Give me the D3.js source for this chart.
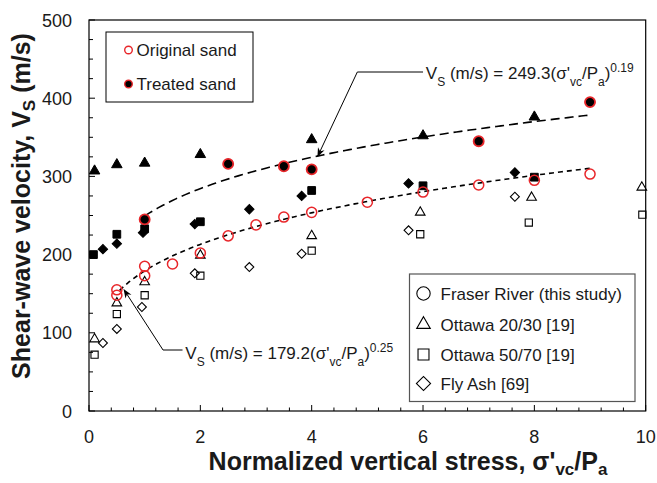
<!DOCTYPE html>
<html><head><meta charset="utf-8">
<script src="https://cdn.jsdelivr.net/npm/d3@7"></script>
<style>body{margin:0;background:#fff}svg{font-family:"Liberation Sans",Arial,sans-serif}</style>
</head><body><svg id="c" width="657" height="483"></svg>
<script>
// ---- data ----
const xTicks = [0, 2, 4, 6, 8, 10];
const yTicks = [0, 100, 200, 300, 400, 500];
// Fraser River (this study)
const fraserOrigX = [0.5, 0.5, 1, 1, 1.5, 2, 2.5, 3, 3.5, 4, 5, 6, 7, 8, 9];
const fraserOrigV = [155, 148, 185, 173, 188, 202, 224, 238, 248, 254, 267, 280, 289, 295, 303];
const fraserTreatX = [1, 2.5, 3.5, 4, 7, 9];
const fraserTreatV = [245, 316, 313, 309, 345, 395];
// Ottawa 20/30
const ott2030OrigX = [0.1, 0.5, 1, 2, 4, 5.95, 7.95, 9.93];
const ott2030OrigV = [92, 138, 165, 199, 224, 254, 273, 286];
const ott2030TreatX = [0.1, 0.5, 1, 2, 4, 6, 8];
const ott2030TreatV = [307, 315, 317, 328, 347, 352, 376];
// Ottawa 50/70
const ott5070OrigX = [0.1, 0.5, 1, 2, 4, 5.95, 7.9, 9.94];
const ott5070OrigV = [72, 124, 148, 173, 205, 226, 241, 251];
const ott5070TreatX = [0.08, 0.5, 1, 2, 4, 6, 8];
const ott5070TreatV = [200, 226, 233, 242, 282, 288, 299];
// Fly Ash
const flyOrigX = [0.25, 0.5, 0.95, 1.9, 2.88, 3.82, 5.74, 7.65];
const flyOrigV = [87, 105, 133, 176, 184, 201, 231, 274];
const flyTreatX = [0.25, 0.5, 0.97, 1.9, 2.88, 3.82, 5.74, 7.65];
const flyTreatV = [207, 214, 228, 239, 258, 275, 291, 305];
// power-law fits Vs = a*(x)^b
const fitTreated = [249.3, 0.19, 1, 9];   // a, b, xStart, xEnd
const fitOriginal = [179.2, 0.25, 0.55, 9];
const legend2Labels = ["Fraser River (this study)", "Ottawa 20/30 [19]", "Ottawa 50/70 [19]", "Fly Ash [69]"];

// ---- layout ----
const svg = d3.select("#c");
const L = 89, T = 20, R = 645.7, B = 411;
const x = d3.scaleLinear().domain([0, 10]).range([L, R]);
const y = d3.scaleLinear().domain([0, 500]).range([B, T]);
const txt = "#1a1a1a";

// frame
svg.append("rect").attr("x", L).attr("y", T).attr("width", R - L).attr("height", B - T)
  .attr("fill", "none").attr("stroke", "#000").attr("stroke-width", 1.2);

// ticks (inward)
const g = svg.append("g");
d3.range(0, 10.001, 0.4).forEach(v => {
  const major = Math.abs(v / 2 - Math.round(v / 2)) < 1e-6;
  g.append("line").attr("x1", x(v)).attr("x2", x(v)).attr("y1", B).attr("y2", B - (major ? 6 : 3.5))
   .attr("stroke", "#000").attr("stroke-width", 1);
});
d3.range(0, 500.001, 25).forEach(v => {
  const major = v % 100 === 0;
  g.append("line").attr("x1", L).attr("x2", L + (major ? 6 : 4)).attr("y1", y(v)).attr("y2", y(v))
   .attr("stroke", "#000").attr("stroke-width", 1);
});
// tick labels
xTicks.forEach(v => svg.append("text").attr("x", x(v)).attr("y", 443).attr("text-anchor", "middle")
  .attr("font-size", 18).attr("fill", txt).text(v));
yTicks.forEach(v => svg.append("text").attr("x", 72).attr("y", y(v) + 6.5).attr("text-anchor", "end")
  .attr("font-size", 18).attr("fill", txt).text(v));

// axis titles
function sub(t, s, fs, shift) {
  t.append("tspan").attr("font-size", fs).attr("dy", shift).text(s);
}
const xt = svg.append("text").attr("x", 408).attr("y", 470).attr("text-anchor", "middle")
  .attr("font-size", 25).attr("font-weight", "bold").attr("fill", txt);
xt.append("tspan").text("Normalized vertical stress, σ'");
sub(xt, "vc", 17, 5);
xt.append("tspan").attr("dy", -5).text("/P");
sub(xt, "a", 17, 5);

const yt = svg.append("text").attr("transform", `translate(30,206) rotate(-90)`)
  .attr("text-anchor", "middle").attr("font-size", 25).attr("font-weight", "bold").attr("fill", txt);
yt.append("tspan").text("Shear-wave velocity, V");
sub(yt, "S", 17, 5);
yt.append("tspan").attr("dy", -5).text(" (m/s)");

// fit curves
function fitLine(f, dash) {
  const pts = d3.range(0, 101).map(i => {
    const xv = f[2] + (f[3] - f[2]) * i / 100;
    return [xv, f[0] * Math.pow(xv, f[1])];
  });
  svg.append("path").attr("d", d3.line().x(d => x(d[0])).y(d => y(d[1]))(pts))
    .attr("fill", "none").attr("stroke", "#000").attr("stroke-width", 1.6).attr("stroke-dasharray", dash);
}
fitLine(fitTreated, "9,5");
fitLine(fitOriginal, "5,4");

// markers
function sym(type, size) { return d3.symbol().type(type).size(size)(); }
function plot(xs, vs, type, size, fill, stroke, sw, rot) {
  xs.forEach((xv, i) => {
    svg.append("path").attr("d", sym(type, size))
      .attr("transform", `translate(${x(xv)},${y(vs[i])})` + (rot ? " rotate(45)" : ""))
      .attr("fill", fill).attr("stroke", stroke).attr("stroke-width", sw);
  });
}
plot(flyOrigX, flyOrigV, d3.symbolSquare, 40, "none", "#000", 1.1, true);
plot(ott5070OrigX, ott5070OrigV, d3.symbolSquare, 52, "none", "#000", 1.1);
plot(ott2030OrigX, ott2030OrigV, d3.symbolTriangle, 40, "none", "#000", 1.1);
plot(flyTreatX, flyTreatV, d3.symbolSquare, 44, "#000", "#000", 1, true);
plot(ott5070TreatX, ott5070TreatV, d3.symbolSquare, 60, "#000", "#000", 1);
plot(ott2030TreatX, ott2030TreatV, d3.symbolTriangle, 48, "#000", "#000", 1);
plot(fraserOrigX, fraserOrigV, d3.symbolCircle, 80, "none", "#e8262a", 1.5);
plot(fraserTreatX, fraserTreatV, d3.symbolCircle, 80, "#000", "#e8262a", 1.8);

// annotations
svg.append("defs").append("marker").attr("id", "arr").attr("viewBox", "0 0 10 10")
  .attr("refX", 9).attr("refY", 5).attr("markerWidth", 9).attr("markerHeight", 9)
  .attr("markerUnits", "userSpaceOnUse").attr("orient", "auto")
  .append("path").attr("d", "M0,1 L10,5 L0,9 L3,5 Z").attr("fill", "#000");

function annot(pts, tx, tv, a, b) {
  svg.append("path").attr("d", d3.line().x(d => x(d[0])).y(d => y(d[1]))(pts))
    .attr("fill", "none").attr("stroke", "#000").attr("stroke-width", 1).attr("marker-end", "url(#arr)");
  const t = svg.append("text").attr("x", x(tx)).attr("y", y(tv)).attr("font-size", 17).attr("fill", txt);
  t.append("tspan").text("V");
  t.append("tspan").attr("font-size", 12).attr("baseline-shift", "sub").text("S");
  t.append("tspan").text(" (m/s) = " + a + "(σ'");
  t.append("tspan").attr("font-size", 12).attr("baseline-shift", "sub").text("vc");
  t.append("tspan").text("/P");
  t.append("tspan").attr("font-size", 12).attr("baseline-shift", "sub").text("a");
  t.append("tspan").text(")");
  t.append("tspan").attr("font-size", 12).attr("baseline-shift", "super").text(b);
}
annot([[6.0, 433.5], [4.82, 433.5], [4.11, 326]], 6.05, 424, "249.3", "0.19");
annot([[1.68, 78], [1.33, 78], [0.63, 155]], 1.73, 67, "179.2", "0.25");

// legend 1
svg.append("rect").attr("x", 106).attr("y", 32).attr("width", 147).attr("height", 70)
  .attr("fill", "#fff").attr("stroke", "#000").attr("stroke-width", 1);
[["Original sand", "none"], ["Treated sand", "#000"]].forEach((d, i) => {
  const cy = 50 + i * 34;
  svg.append("circle").attr("cx", 128.5).attr("cy", cy).attr("r", 3.8)
    .attr("fill", d[1]).attr("stroke", "#e8262a").attr("stroke-width", 1.4);
  svg.append("text").attr("x", 136.5).attr("y", cy + 6).attr("font-size", 17).attr("fill", txt).text(d[0]);
});

// legend 2
svg.append("rect").attr("x", 409.5).attr("y", 274).attr("width", 225.5).attr("height", 127.5)
  .attr("fill", "#fff").attr("stroke", "#555").attr("stroke-width", 1.2);
const lsyms = [[d3.symbolCircle, 140, false], [d3.symbolTriangle, 80, false], [d3.symbolSquare, 120, false], [d3.symbolSquare, 100, true]];
const rowsY = [293.5, 324.5, 354.5, 383.5];
legend2Labels.forEach((lab, i) => {
  svg.append("path").attr("d", sym(lsyms[i][0], lsyms[i][1]))
    .attr("transform", `translate(423.5,${rowsY[i]})` + (lsyms[i][2] ? " rotate(45)" : ""))
    .attr("fill", "none").attr("stroke", "#000").attr("stroke-width", 1.1);
  svg.append("text").attr("x", 440.5).attr("y", rowsY[i] + 6).attr("font-size", 17).attr("fill", txt).text(lab);
});
</script></body></html>
